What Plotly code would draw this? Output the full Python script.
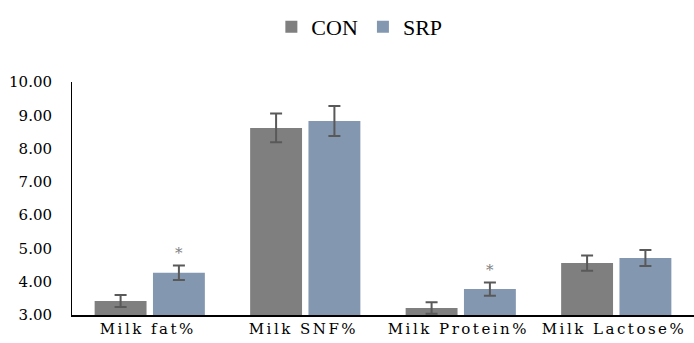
import plotly.graph_objects as go

categories = ["Milk fat%", "Milk SNF%", "Milk Protein%", "Milk Lactose%"]
con_values = [3.42, 8.62, 3.21, 4.56]
con_errors = [0.18, 0.43, 0.17, 0.23]
srp_values = [4.27, 8.83, 3.78, 4.71]
srp_errors = [0.22, 0.45, 0.20, 0.24]
significant = [True, False, True, False]
y_ticks = [3, 4, 5, 6, 7, 8, 9, 10]

LEGEND_FONT = "Liberation Serif"
FONT = "DejaVu Serif"
err_style = dict(type="data", visible=True, color="#595959", thickness=2, width=6)

fig = go.Figure()
fig.add_trace(go.Bar(name="CON", x=categories, y=[v - 3 for v in con_values], base=3,
                     marker=dict(color="#7f7f7f", line=dict(width=0)),
                     error_y=dict(array=con_errors, **err_style)))
fig.add_trace(go.Bar(name="SRP", x=categories, y=[v - 3 for v in srp_values], base=3,
                     marker=dict(color="#8497b0", line=dict(width=0)),
                     error_y=dict(array=srp_errors, **err_style)))

bargap = 0.25
offset = (1 - bargap) / 4
for i, (v, e, s) in enumerate(zip(srp_values, srp_errors, significant)):
    if s:
        fig.add_annotation(x=i + offset, y=v + e + 0.36, xref="x", yref="y", text="*",
                           showarrow=False, font=dict(family=FONT, size=15, color="#7f7f7f"),
                           yanchor="middle")

for i, c in enumerate(categories):
    fig.add_annotation(x=i, y=0, xref="x", yref="paper", text=c, showarrow=False,
                       yanchor="top", yshift=-3, xshift=-2,
                       font=dict(family=FONT, size=15, color="black"))

fig.update_layout(
    width=694, height=343,
    margin=dict(l=72, r=0, t=82, b=28, autoexpand=False),
    paper_bgcolor="white", plot_bgcolor="white",
    barmode="group", bargap=bargap, bargroupgap=0.11,
    font=dict(family=FONT, size=15, color="black"),
    showlegend=True,
    legend=dict(orientation="h", x=0.462, xanchor="center", y=1.236, yanchor="middle",
                font=dict(family=LEGEND_FONT, size=22, color="black"), itemwidth=30,
                bgcolor="rgba(0,0,0,0)"),
    xaxis=dict(showline=True, linecolor="black", linewidth=2, ticks="",
               showgrid=False, zeroline=False, showticklabels=False),
    yaxis=dict(range=[3, 10], tickvals=y_ticks, tickformat=".2f", showline=True,
               linecolor="black", linewidth=1, ticks="", showgrid=False, zeroline=False,
               ticklabelstandoff=16,
               tickfont=dict(family=FONT, size=15, color="black")),
)

post = """
document.body.style.margin = '0';
var gd = document.getElementById('{plot_id}');
function sp(){
  gd.querySelectorAll('.annotation-text').forEach(function(t){ if ((t.textContent||'').length > 1) { t.style.letterSpacing='2.5px'; } });
}
sp();
if (gd.on) { gd.on('plotly_afterplot', sp); }
setTimeout(sp, 50);
"""
fig.write_html("out.html", post_script=post, config={"displayModeBar": False})
